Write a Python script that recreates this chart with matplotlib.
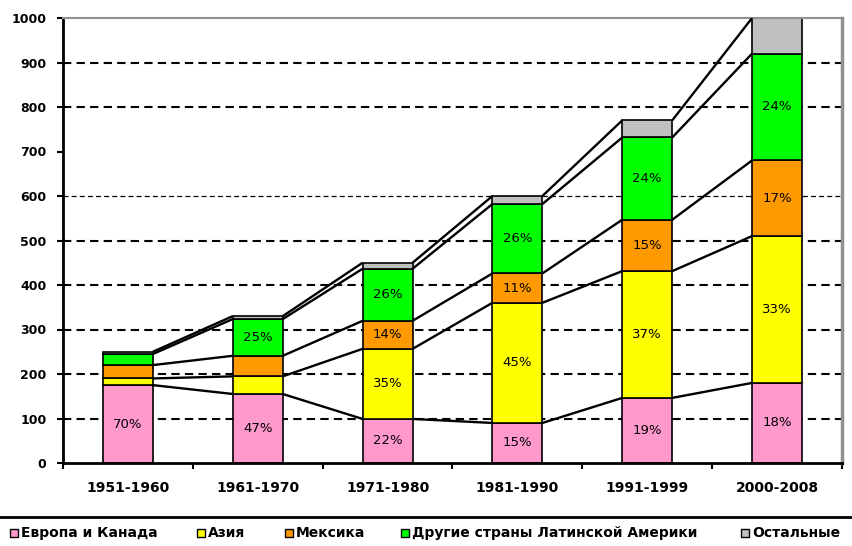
import matplotlib
matplotlib.use("Agg")
import matplotlib.pyplot as plt
from matplotlib.patches import Rectangle
from matplotlib.lines import Line2D
import numpy as np

plt.rcParams["font.family"] = ["DejaVu Sans"]

# Immigration by decade: totals (thousands, in tens) and regional shares (%)
periods = ["1951-1960", "1961-1970", "1971-1980", "1981-1990", "1991-1999", "2000-2008"]
totals = [250, 330, 450, 600, 770, 1000]

share_europe = [70, 47, 22, 15, 19, 18]
share_asia = [6, 12, 35, 45, 37, 33]
share_mexico = [12, 14, 14, 11, 15, 17]
share_latam = [10, 25, 26, 26, 24, 24]
share_other = [2, 2, 3, 3, 5, 8]

# which segments carry a percentage label
show_europe = [True, True, True, True, True, True]
show_asia = [False, False, True, True, True, True]
show_mexico = [False, False, True, True, True, True]
show_latam = [False, True, True, True, True, True]
show_other = [False, False, False, False, False, False]

series_names = ["Европа и Канада", "Азия", "Мексика",
                "Другие страны Латинской Америки", "Остальные"]
series_colors = ["#FF99CC", "#FFFF00", "#FF9900", "#00FF00", "#C0C0C0"]

y_ticks = [0, 100, 200, 300, 400, 500, 600, 700, 800, 900, 1000]
grid_levels = [100, 200, 300, 400, 500, 600, 800, 900]

shares = [share_europe, share_asia, share_mexico, share_latam, share_other]
shows = [show_europe, show_asia, show_mexico, show_latam, show_other]

fig = plt.figure(figsize=(8.53, 5.46), dpi=100)
ax = fig.add_axes([63 / 853, 83 / 546, 779 / 853, 445 / 546])

x = np.arange(len(periods))
w = 0.385
tot = np.array(totals, dtype=float)

# dashed horizontal grid
for lv in grid_levels:
    ax.axhline(lv, color="black", lw=0.9 if lv == 600 else 1.5,
               ls=(0, (4, 2.5)), zorder=0.5)

bottom = np.zeros(len(periods))
tops = []
for sh, show, col in zip(shares, shows, series_colors):
    vals = tot * np.array(sh) / 100.0
    ax.bar(x, vals, w, bottom=bottom, color=col, edgecolor="black",
           linewidth=1.2, zorder=2, clip_on=True)
    for i in range(len(x)):
        if show[i]:
            ax.text(x[i], bottom[i] + vals[i] / 2, f"{sh[i]}%", ha="center",
                    va="center", fontsize=9.5, color="black", zorder=4)
    bottom = bottom + vals
    tops.append(bottom.copy())

# series lines joining the segment tops of neighbouring bars
for lvl in tops:
    for i in range(len(x) - 1):
        ax.plot([x[i] + w / 2, x[i + 1] - w / 2], [lvl[i], lvl[i + 1]],
                color="black", lw=1.7, zorder=3, solid_capstyle="butt")

ax.set_xlim(-0.5, len(periods) - 0.5)
ax.set_ylim(0, 1000)
ax.set_yticks(y_ticks)
ax.set_yticklabels([str(v) for v in y_ticks], fontsize=9, fontweight="bold")
ax.set_xticks(x)
ax.set_xticklabels(periods, fontsize=10, fontweight="bold")
ax.set_xticks(np.arange(-0.5, len(periods)), minor=True)
ax.tick_params(axis="x", which="major", length=0, pad=13)
ax.tick_params(axis="x", which="minor", length=4, width=1.5, direction="out")
ax.tick_params(axis="y", length=4, width=1.5, direction="out", pad=8)

for s in ["left", "bottom"]:
    ax.spines[s].set_color("black")
    ax.spines[s].set_linewidth(2)
ax.spines["top"].set_color("#909090")
ax.spines["top"].set_linewidth(1.5)
ax.spines["right"].set_color("#909090")
ax.spines["right"].set_linewidth(2.5)

# separator above the legend
fig.add_artist(Line2D([0, 1], [29 / 546, 29 / 546], color="black", lw=2))

# legend row
legend_x = [10, 197, 285, 401, 741]
ly = 13 / 546
for px, name, col in zip(legend_x, series_names, series_colors):
    fig.add_artist(Rectangle((px / 853, ly - 4 / 546), 8 / 853, 8 / 546,
                             facecolor=col, edgecolor="black", lw=1.0,
                             transform=fig.transFigure))
    fig.text((px + 11) / 853, ly, name, fontsize=10, fontweight="bold",
             va="center", ha="left")

fig.savefig("out.png", dpi=100)
